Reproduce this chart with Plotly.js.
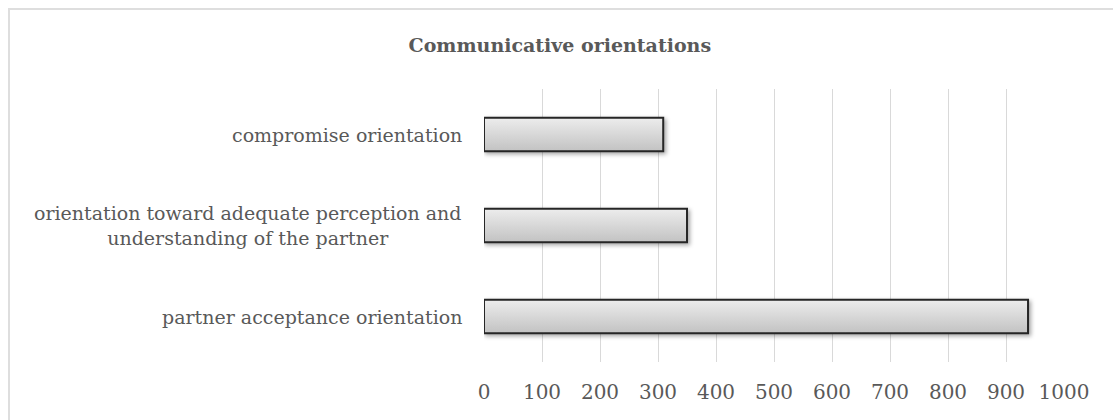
<!DOCTYPE html>
<html>
<head>
<meta charset="utf-8">
<script src="https://cdn.plot.ly/plotly-3.0.1.min.js"></script>
<style>
  html, body { margin: 0; padding: 0; background: #ffffff; overflow: hidden; }
  #chart { width: 1113px; height: 420px; }
  #frame { position: absolute; left: 8px; top: 8px; width: 1300px; height: 600px;
           border: 2px solid #dedede; pointer-events: none; }
</style>
</head>
<body>
<div id="chart"></div>
<div id="frame"></div>
<script>
// Data (bottom to top, as Plotly draws horizontal bar categories)
const categories = [
  "partner acceptance orientation",
  "orientation toward adequate perception and<br>understanding of the partner",
  "compromise orientation"
];
const values = [938, 350, 309];
const tickValues = [0, 100, 200, 300, 400, 500, 600, 700, 800, 900, 1000];
const chartTitle = "Communicative orientations";

const serif = "DejaVu Serif, Liberation Serif, serif";
const textColor = "#595959";

const trace = {
  type: "bar",
  orientation: "h",
  x: values,
  y: categories,
  marker: { color: "#d6d6d6", line: { color: "#262626", width: 2 } },
  hoverinfo: "none"
};

const annotations = categories.map((c, i) => ({
  text: c,
  xref: "paper", x: 0, xshift: -20,
  yref: "y", y: c,
  xanchor: "right", yanchor: "middle",
  align: "center",
  showarrow: false,
  font: { family: serif, size: 19, color: textColor }
}));

const layout = {
  width: 1113,
  height: 420,
  margin: { l: 484, r: 49, t: 89, b: 58 },
  paper_bgcolor: "#ffffff",
  plot_bgcolor: "#ffffff",
  showlegend: false,
  bargap: 0.63,
  title: {
    text: "<b>" + chartTitle + "</b>",
    x: 0.503, xref: "container", xanchor: "center",
    y: 1 - 45 / 420, yref: "container", yanchor: "middle",
    font: { family: serif, size: 19, color: textColor }
  },
  xaxis: {
    range: [0, 1000],
    tickvals: tickValues,
    ticktext: tickValues.map(String),
    showgrid: true,
    gridcolor: "#d9d9d9",
    gridwidth: 1,
    zeroline: false,
    showline: false,
    ticks: "",
    ticklabelstandoff: 16,
    tickfont: { family: serif, size: 20, color: textColor },
    fixedrange: true
  },
  yaxis: {
    type: "category",
    showticklabels: false,
    showgrid: false,
    zeroline: false,
    showline: false,
    ticks: "",
    fixedrange: true
  },
  annotations: annotations
};

Plotly.newPlot("chart", [trace], layout, { displayModeBar: false, staticPlot: true }).then(() => {
  const svg = document.querySelector("#chart .main-svg");
  const ns = "http://www.w3.org/2000/svg";
  let defs = svg.querySelector("defs");
  if (!defs) { defs = document.createElementNS(ns, "defs"); svg.insertBefore(defs, svg.firstChild); }
  const grad = document.createElementNS(ns, "linearGradient");
  grad.setAttribute("id", "barGrad");
  grad.setAttribute("x1", "0"); grad.setAttribute("y1", "0");
  grad.setAttribute("x2", "0"); grad.setAttribute("y2", "1");
  [["0", "#ededed"], ["1", "#c2c2c2"]].forEach(([o, c]) => {
    const s = document.createElementNS(ns, "stop");
    s.setAttribute("offset", o); s.setAttribute("stop-color", c);
    grad.appendChild(s);
  });
  defs.appendChild(grad);
  const filt = document.createElementNS(ns, "filter");
  filt.setAttribute("id", "barShadow");
  filt.setAttribute("x", "-5%"); filt.setAttribute("y", "-30%");
  filt.setAttribute("width", "115%"); filt.setAttribute("height", "170%");
  const ds = document.createElementNS(ns, "feDropShadow");
  ds.setAttribute("dx", "2"); ds.setAttribute("dy", "2");
  ds.setAttribute("stdDeviation", "2");
  ds.setAttribute("flood-color", "#000000");
  ds.setAttribute("flood-opacity", "0.35");
  filt.appendChild(ds);
  defs.appendChild(filt);
  document.querySelectorAll("#chart .barlayer .point path").forEach(p => {
    p.style.fill = "url(#barGrad)";
    p.setAttribute("filter", "url(#barShadow)");
  });
});
</script>
</body>
</html>
